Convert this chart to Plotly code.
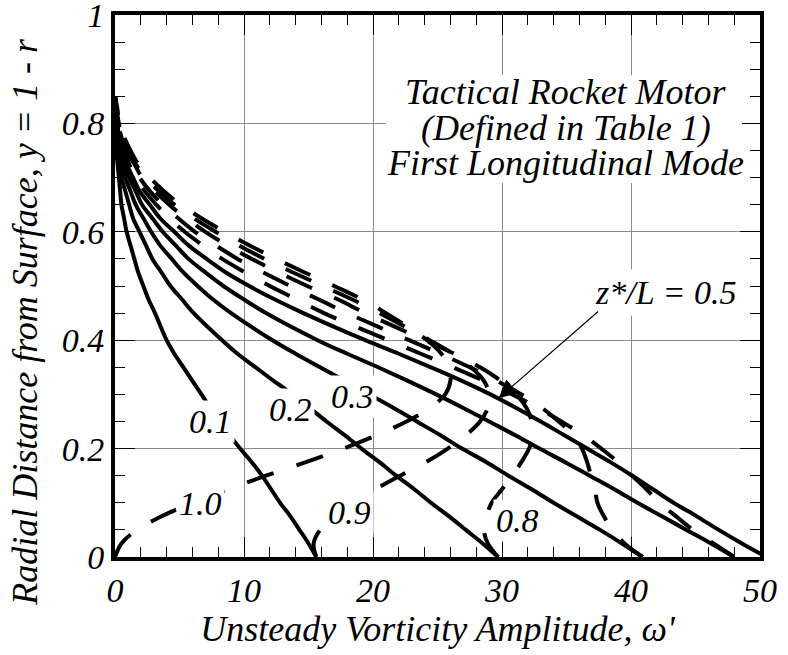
import plotly.graph_objects as go

# Radial distance from the surface, y = 1 - r
y_pos = [0, 0.025, 0.05, 0.075, 0.1, 0.125, 0.15, 0.175, 0.2, 0.225, 0.25, 0.275, 0.3,
         0.325, 0.35, 0.375, 0.4, 0.45, 0.475, 0.5, 0.525, 0.55, 0.575, 0.6, 0.625,
         0.65, 0.675, 0.7, 0.725, 0.75, 0.775, 0.8, 0.825, 0.85]

# Unsteady vorticity amplitude at each axial station z*/L
w_01 = [15.6, 15.0, 14.3, 13.6, 12.8, 12.1, 11.4, 10.6, 9.7, 8.9, 8.2, 7.4, 6.7, 6.0, 5.3, 4.6, 4.0,
        3.1, 2.6, 2.2, 1.8, 1.5, 1.2, 0.9, 0.7, 0.5, 0.4, 0.3, 0.2, 0.1, 0.1, 0.0, 0.0, 0.0]
w_02 = [29.7, 28.5, 27.2, 25.9, 24.5, 23.2, 21.8, 20.5, 19.1, 17.8, 16.4, 15.1, 13.8, 12.3, 10.9, 9.5, 8.3,
        6.1, 5.2, 4.3, 3.6, 2.9, 2.4, 1.9, 1.4, 1.1, 0.8, 0.5, 0.4, 0.2, 0.1, 0.1, 0.0, 0.0]
w_03 = [40.9, 39.3, 37.6, 35.8, 34.0, 32.3, 30.5, 28.8, 26.9, 25.2, 23.4, 21.6, 19.7, 17.8, 15.9, 14.0, 12.2,
        9.0, 7.6, 6.4, 5.3, 4.4, 3.5, 2.8, 2.2, 1.6, 1.2, 0.8, 0.6, 0.4, 0.2, 0.1, 0.0, 0.0]
w_04 = [48.0, 46.2, 44.3, 42.4, 40.5, 38.7, 36.8, 34.9, 32.9, 31.0, 29.0, 27.0, 24.9, 22.7, 20.4, 18.0, 15.7,
        11.7, 10.0, 8.4, 7.0, 5.7, 4.7, 3.7, 2.9, 2.1, 1.6, 1.1, 0.7, 0.5, 0.3, 0.1, 0.1, 0.0]
w_05 = [50.5, 48.6, 46.8, 45.1, 43.3, 41.7, 40.1, 38.4, 36.6, 34.8, 33.0, 31.1, 29.1, 26.9, 24.5, 22.0, 19.4,
        14.6, 12.4, 10.4, 8.6, 7.1, 5.7, 4.6, 3.5, 2.7, 1.9, 1.4, 0.9, 0.6, 0.3, 0.2, 0.1, 0.0]
w_06 = [48.0, 46.4, 44.8, 43.5, 42.2, 41.2, 40.1, 39.0, 37.7, 36.3, 34.6, 32.8, 30.8, 28.6, 26.2, 23.7, 21.2,
        16.2, 14.1, 12.0, 10.1, 8.3, 6.8, 5.4, 4.2, 3.2, 2.3, 1.6, 1.1, 0.7, 0.4, 0.2, 0.1, 0.0]
w_07 = [40.9, 39.5, 38.6, 37.9, 37.4, 37.2, 36.9, 36.6, 36.2, 35.5, 34.4, 33.1, 31.5, 29.6, 27.5, 25.2, 22.8,
        18.0, 15.8, 13.6, 11.5, 9.5, 7.8, 6.2, 4.9, 3.7, 2.7, 1.9, 1.3, 0.8, 0.5, 0.2, 0.1, 0.0]
w_08 = [29.7, 28.9, 28.6, 28.8, 29.2, 30.0, 30.8, 31.5, 32.1, 32.4, 32.3, 31.9, 31.1, 29.9, 28.3, 26.3, 24.0,
        19.4, 17.3, 14.9, 12.7, 10.6, 8.7, 7.0, 5.5, 4.2, 3.1, 2.1, 1.5, 0.9, 0.5, 0.3, 0.1, 0.0]
w_09 = [15.6, 15.4, 15.9, 17.0, 18.5, 20.2, 22.1, 24.1, 25.8, 27.2, 28.3, 28.9, 29.0, 28.6, 27.6, 26.2, 24.4,
        20.5, 18.4, 16.1, 13.8, 11.6, 9.6, 7.8, 6.1, 4.6, 3.4, 2.4, 1.6, 1.0, 0.6, 0.3, 0.1, 0.0]
w_10 = [0.0, 0.5, 1.7, 3.6, 6.0, 8.8, 11.7, 14.8, 17.7, 20.3, 22.6, 24.4, 25.6, 26.0, 25.9, 25.3, 24.2,
        21.0, 19.2, 17.0, 14.7, 12.5, 10.4, 8.5, 6.7, 5.1, 3.8, 2.7, 1.8, 1.2, 0.7, 0.3, 0.2, 0.0]

solid_series = [w_01, w_02, w_03, w_04, w_05]      # z*/L = 0.1 ... 0.5
dashed_series = [w_06, w_07, w_08, w_09, w_10]     # z*/L = 0.6 ... 1.0

x_ticks = [0, 10, 20, 30, 40, 50]
y_ticks = [0, 0.2, 0.4, 0.6, 0.8, 1]
y_tick_text = ["0", "0.2", "0.4", "0.6", "0.8", "1"]

# curve labels: text, x, y
curve_labels = [("0.1", 7.4, 0.250), ("0.2", 13.6, 0.272), ("0.3", 18.4, 0.296),
                ("1.0", 6.65, 0.099), ("0.9", 18.2, 0.082), ("0.8", 31.2, 0.068)]

FONT = "Liberation Serif"


def ifont(size):
    return dict(family=FONT, size=size, color="black", style="italic")


fig = go.Figure()
for w in solid_series:
    fig.add_trace(go.Scatter(x=w, y=y_pos, mode="lines", line_shape="spline",
                             line=dict(color="black", width=4),
                             hoverinfo="skip", showlegend=False))
for w in dashed_series:
    fig.add_trace(go.Scatter(x=w, y=y_pos, mode="lines", line_shape="spline",
                             line=dict(color="black", width=4, dash="28px,24px"),
                             hoverinfo="skip", showlegend=False))

axis_common = dict(
    showline=True, linewidth=4, linecolor="black", mirror="ticks",
    ticks="inside", ticklen=20, tickwidth=1.3, tickcolor="black",
    showgrid=True, gridcolor="#8c8c8c", gridwidth=1, zeroline=False,
    tickfont=ifont(34), automargin=False, ticklabeloverflow="allow",
)
fig.update_xaxes(range=[0, 50], tickvals=x_ticks,
                 minor=dict(dtick=2, ticks="inside", ticklen=10, tickwidth=1.3,
                            tickcolor="black", showgrid=False),
                 title=dict(text="Unsteady Vorticity Amplitude, ω'", standoff=3, font=ifont(36)),
                 **axis_common)
fig.update_yaxes(range=[0, 1], tickvals=y_ticks, ticktext=y_tick_text,
                 minor=dict(dtick=0.05, ticks="inside", ticklen=10, tickwidth=1.3,
                            tickcolor="black", showgrid=False),
                 **axis_common)

ann = []
for t, lx, ly in curve_labels:
    ann.append(dict(x=lx, y=ly, text=t, showarrow=False, font=ifont(34),
                    bgcolor="white", borderpad=2))

# vertical axis title
ann.append(dict(x=-0.1395, y=0.434, xref="paper", yref="paper", textangle=-90,
                xanchor="center", yanchor="middle",
                text="Radial Distance from Surface, y = 1 - r", showarrow=False, font=ifont(36)))

# description block
for t, ly in [("Tactical Rocket Motor", 0.858), ("(Defined in Table 1)", 0.7915),
              ("First Longitudinal Mode", 0.727)]:
    ann.append(dict(x=34.94, y=ly, text=t, showarrow=False, font=ifont(36)))

ann.append(dict(x=42.7, y=0.4887, text="z*/L = 0.5", showarrow=False, font=ifont(34),
                bgcolor="white", borderpad=4))
ann.append(dict(x=29.74, y=0.293, text="", showarrow=True, ax=101, ay=-88,
                arrowhead=2, arrowsize=3, arrowwidth=1.2, arrowcolor="black"))

fig.update_layout(
    width=788, height=655, margin=dict(l=115, r=28, t=15, b=98),
    plot_bgcolor="white", paper_bgcolor="white", annotations=ann,
    shapes=[dict(type="rect", xref="paper", yref="paper", layer="above",
                 x0=(386 - 115) / 645, x1=(742 - 115) / 645,
                 y0=(557 - 183) / 542, y1=(557 - 75) / 542,
                 fillcolor="white", line=dict(width=0))],
)
fig.write_html("out.html")
